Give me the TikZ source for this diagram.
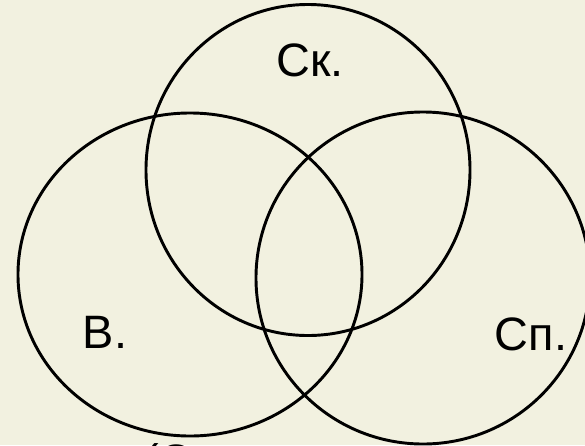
\documentclass[tikz,border=0pt]{standalone}
\usepackage{fontspec}
\setmainfont{Liberation Sans}
\usetikzlibrary{shapes.geometric}
\definecolor{paper}{HTML}{F2F1E0}

\begin{document}
\begin{tikzpicture}[x=0.03cm,y=-0.03cm,
 set/.style={ellipse,draw=black,line width=2.5pt,inner sep=0pt},
 setlabel/.style={font=\fontsize{40}{46}\selectfont,inner sep=0pt}
]
\fill[paper] (0,0) rectangle (585,445);
\useasboundingbox (0,0) rectangle (585,445);
\begin{scope}
\clip (0,0) rectangle (585,445);
\node[set,minimum width=9.72cm,minimum height=9.93cm] (skaz) at (308,170) {};
\node[set,minimum width=10.32cm,minimum height=9.69cm] (vers) at (190,274.5) {};
\node[set,minimum width=10.02cm,minimum height=9.96cm] (spl) at (423,278) {};
\node[setlabel,anchor=base west] (rest) at (143,477) {(С};
\end{scope}
\node[setlabel] (skazlabel) at (310,60) {Ск.};
\node[setlabel] (verslabel) at (105,332) {В.};
\node[setlabel] (spllabel) at (531,334) {Сп.};
\end{tikzpicture}
\end{document}
